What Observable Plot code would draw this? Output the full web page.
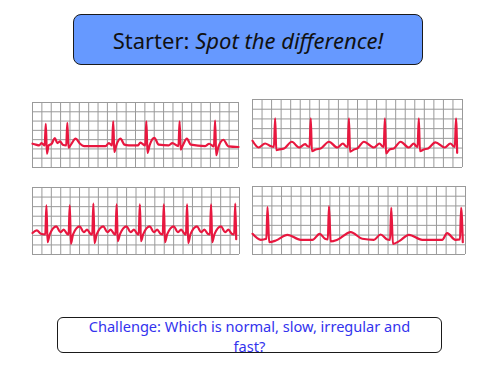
<!DOCTYPE html>
<html>
<head>
<meta charset="utf-8">
<script src="https://cdn.jsdelivr.net/npm/d3@7"></script>
<script src="https://cdn.jsdelivr.net/npm/@observablehq/plot@0.6"></script>
<style>
  html, body { margin: 0; padding: 0; background: #fff; }
  #slide { position: relative; width: 500px; height: 375px; overflow: hidden; background: #fff; }
  .title {
    position: absolute; left: 73px; top: 14px; width: 348px; height: 49px;
    background: #6699ff; border: 1.5px solid #1a1a1a; border-radius: 8px;
    display: flex; align-items: center; justify-content: center;
    font-family: "Comic Sans MS", "Noto Sans", sans-serif; font-size: 22px; color: #111;
  }
  .challenge {
    position: absolute; left: 57px; top: 317px; width: 383px; height: 34px;
    border: 1.5px solid #1a1a1a; border-radius: 6px; background: #fff;
  }
  .challenge div {
    position: absolute; left: 0; right: 0; top: -2px;
    text-align: center; line-height: 20px;
    font-family: "Comic Sans MS", "Noto Sans", sans-serif; font-size: 14.6px; color: #3333ee;
  }
  .panel { position: absolute; }
</style>
</head>
<body>
<div id="slide">
  <div class="title"><span>Starter:&nbsp;<i>Spot the difference!</i></span></div>
  <div class="challenge"><div>Challenge: Which is normal, slow, irregular and<br>fast?</div></div>
</div>
<script>
// Grid: 22 small squares wide, 7 high (time, voltage in grid units)
const gridX = d3.range(0, 23);
const gridY = d3.range(0, 8);

// Strip A (top-left): irregular rhythm
const stripA = [[0,2.56],[0.35,2.46],[0.71,2.38],[0.96,2.63],[1.30,2.38],[1.42,4.70],[1.54,1.49],[1.72,2.38],[2.05,2.56],[2.38,3.17],[2.66,2.63],[2.94,2.81],[3.23,2.46],[3.60,2.38],[3.72,4.80],[3.84,2.14],[4.05,2.38],[4.61,3.10],[5.07,2.56],[5.50,2.31],[7.80,2.31],[8.16,2.63],[8.50,2.38],[8.62,4.98],[8.74,1.67],[8.95,2.38],[9.40,3.10],[9.82,2.46],[10.28,2.38],[11.24,2.38],[11.52,2.67],[12.04,2.38],[12.16,4.98],[12.28,1.57],[12.50,2.38],[13.01,3.20],[13.48,2.46],[14.54,2.38],[14.93,2.63],[15.59,2.31],[15.71,4.98],[15.83,1.92],[16.05,2.38],[16.49,3.10],[16.91,2.46],[18.44,2.31],[18.87,2.56],[19.38,2.28],[19.50,5.05],[19.62,1.32],[19.85,2.21],[20.39,2.99],[20.92,2.28],[22.00,2.21]];

// Strip B (top-right): normal rhythm
const stripB = [[0,2.75],[0.63,2.06],[1.32,2.47],[1.92,2.20],[2.25,2.13],[2.37,5.05],[2.49,1.79],[2.79,1.86],[3.31,1.96],[4.11,2.65],[4.88,2.06],[5.51,2.41],[5.75,2.20],[5.98,2.13],[6.10,5.05],[6.22,1.68],[6.62,1.86],[7.14,1.96],[8.01,2.65],[8.89,2.06],[9.48,2.47],[9.76,2.20],[9.98,2.13],[10.10,5.05],[10.22,1.62],[10.63,1.86],[10.98,1.96],[11.67,2.65],[12.72,2.06],[13.31,2.47],[13.59,2.20],[13.75,2.13],[13.87,5.05],[13.99,1.44],[14.36,1.86],[14.81,1.96],[15.51,2.65],[16.38,2.06],[16.90,2.47],[17.14,2.20],[17.30,2.13],[17.42,5.05],[17.54,1.68],[17.94,1.86],[18.40,1.96],[19.16,2.58],[20.14,2.06],[20.73,2.47],[21.05,2.20],[21.20,2.13],[21.32,5.05],[21.44,1.51]];

// Strip C (bottom-left): fast rhythm
const stripC = [[0,2.24],[0.46,2.52],[0.88,2.17],[1.36,2.10],[1.48,5.13],[1.60,1.29],[1.83,2.10],[2.54,2.94],[2.96,2.34],[3.32,2.59],[3.67,2.17],[3.84,2.10],[3.96,5.13],[4.08,1.12],[4.31,2.10],[5.02,2.94],[5.44,2.34],[5.80,2.59],[6.15,2.17],[6.35,2.10],[6.47,5.31],[6.59,1.19],[6.82,2.10],[7.53,2.94],[7.95,2.34],[8.31,2.59],[8.66,2.17],[8.82,2.10],[8.94,5.24],[9.06,1.40],[9.29,2.10],[10.00,2.94],[10.42,2.34],[10.78,2.59],[11.13,2.17],[11.29,2.10],[11.41,5.24],[11.53,1.40],[11.76,2.10],[12.47,2.94],[12.89,2.34],[13.25,2.59],[13.60,2.17],[13.84,2.10],[13.96,5.24],[14.08,1.29],[14.31,2.10],[15.02,2.94],[15.44,2.34],[15.80,2.59],[16.15,2.17],[16.31,2.10],[16.43,5.24],[16.55,1.19],[16.78,2.10],[17.49,2.94],[17.91,2.34],[18.27,2.59],[18.62,2.17],[18.86,2.10],[18.98,5.24],[19.10,1.29],[19.33,2.10],[20.04,2.94],[20.46,2.34],[20.82,2.59],[21.17,2.17],[21.43,2.10],[21.55,5.31],[21.65,1.60]];

// Strip D (bottom-right): slow rhythm
const stripD = [[0,2.13],[0.86,1.51],[1.43,1.62],[1.55,4.88],[1.72,1.27],[2.41,1.44],[3.61,2.03],[4.98,1.51],[6.19,1.51],[6.94,2.13],[7.49,1.62],[7.78,1.55],[7.90,4.95],[8.07,1.34],[8.76,1.51],[10.14,2.30],[11.34,1.62],[12.54,1.51],[13.23,2.06],[13.92,1.55],[14.21,1.51],[14.33,4.81],[14.50,1.10],[15.19,1.40],[16.15,2.03],[17.53,1.51],[19.59,1.51],[20.10,2.20],[20.96,1.51],[21.43,1.55],[21.55,4.81],[21.72,1.27]];

const panels = [
  {data: stripA, left: 32, top: 102, width: 206, height: 65},
  {data: stripB, left: 252, top: 99, width: 210, height: 68},
  {data: stripC, left: 32, top: 187, width: 207, height: 67},
  {data: stripD, left: 252, top: 186, width: 213, height: 68}
];

const slide = document.getElementById("slide");
for (const p of panels) {
  const m = 1;
  const chart = Plot.plot({
    width: p.width + 2 * m,
    height: p.height + 2 * m,
    margin: m,
    x: {domain: [0, 22], axis: null},
    y: {domain: [0, 7], axis: null},
    style: {background: "transparent", overflow: "visible"},
    marks: [
      Plot.ruleX(gridX, {stroke: "#9a9a9a", strokeWidth: 1}),
      Plot.ruleY(gridY, {stroke: "#9a9a9a", strokeWidth: 1}),
      Plot.line(p.data, {x: d => d[0], y: d => d[1], stroke: "#e8173f", strokeWidth: 2.2, curve: "monotone-x"})
    ]
  });
  chart.classList.add("panel");
  chart.style.left = (p.left - m) + "px";
  chart.style.top = (p.top - m) + "px";
  slide.appendChild(chart);
}
</script>
</body>
</html>
